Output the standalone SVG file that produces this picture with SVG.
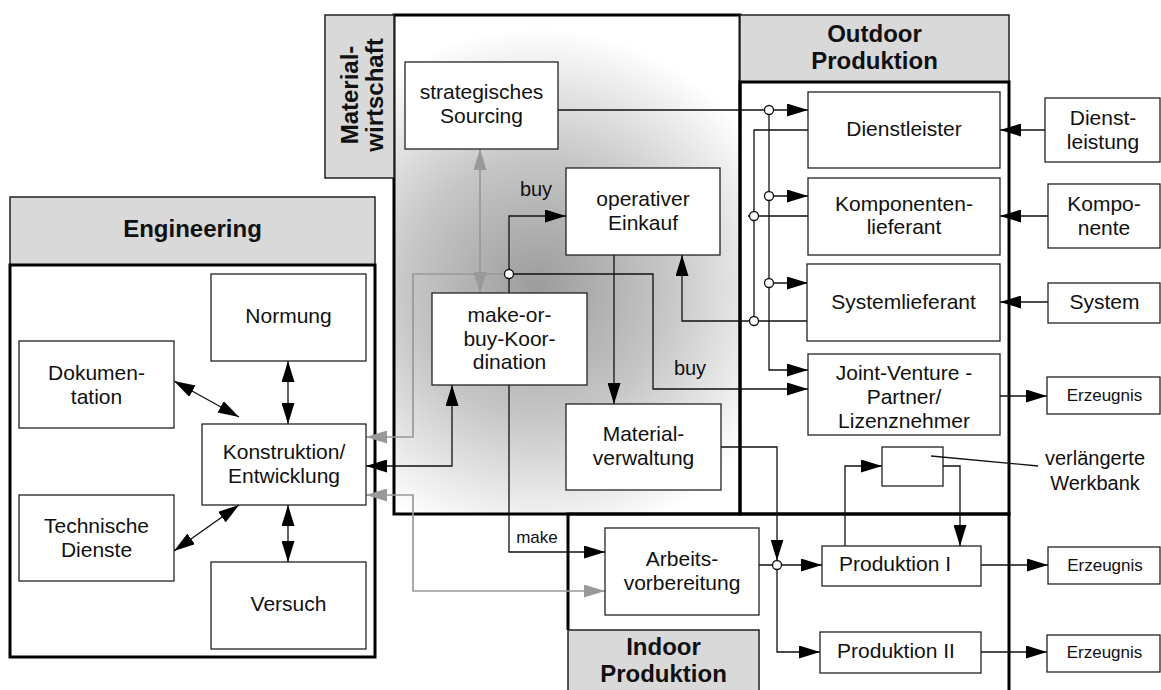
<svg xmlns="http://www.w3.org/2000/svg" width="1161" height="690" viewBox="0 0 1161 690">
<style>
text{font-family:"Liberation Sans",Arial,Helvetica,sans-serif;fill:#111;text-anchor:middle}
.t{font-size:21px}
.s{font-size:17px}
.hd{font-size:24px;font-weight:bold}
.node rect{fill:#fff;stroke:#222;stroke-width:1.3}
.hdr{fill:#d9d9d9;stroke:#222;stroke-width:1.5}
.frame{fill:none;stroke:#000;stroke-width:3}
.c path{fill:none;stroke:#111;stroke-width:1.3}
.c path.g{stroke:#999;stroke-width:1.7}
.j{fill:#fff;stroke:#111;stroke-width:1.3}
</style>
<defs>
<radialGradient id="shade" gradientUnits="userSpaceOnUse" cx="538" cy="288" r="260">
<stop offset="0" stop-color="#9c9c9c"/>
<stop offset="0.5" stop-color="#c6c6c6"/>
<stop offset="1" stop-color="#fff"/>
</radialGradient>
<marker id="a" markerUnits="userSpaceOnUse" markerWidth="22" markerHeight="13" refX="21" refY="6.5" orient="auto-start-reverse">
<path d="M0,0 L21,6.5 L0,13 z" fill="#000"/>
</marker>
<marker id="ag" markerUnits="userSpaceOnUse" markerWidth="22" markerHeight="13" refX="21" refY="6.5" orient="auto-start-reverse">
<path d="M0,0 L21,6.5 L0,13 z" fill="#999"/>
</marker>
</defs>
<rect width="1161" height="690" fill="#fff"/>

<!-- containers -->
<g id="materialwirtschaft">
<rect x="394" y="15" width="346" height="499" style="fill:url(#shade)"/>
<rect x="394" y="15" width="346" height="499" class="frame"/>
<rect x="325" y="15" width="69" height="163" class="hdr"/>
<g transform="translate(359.5,95) rotate(-90)">
<text class="hd" x="0" y="-2">Material-</text>
<text class="hd" x="0" y="23">wirtschaft</text>
</g>
</g>
<g id="outdoor">
<rect x="740" y="15" width="269" height="67" class="hdr"/>
<rect x="740" y="82" width="269" height="432" class="frame"/>
<text class="hd" x="874.5" y="42">Outdoor</text>
<text class="hd" x="874.5" y="69">Produktion</text>
</g>
<g id="indoor">
<path d="M568,630 V514 H1009 V690" class="frame"/>
<rect x="568" y="630" width="191" height="62" class="hdr"/>
<text class="hd" x="663.5" y="655">Indoor</text>
<text class="hd" x="663.5" y="682">Produktion</text>
</g>
<g id="engineering">
<rect x="10" y="197" width="365" height="68" class="hdr"/>
<rect x="10" y="265" width="365" height="392" class="frame"/>
<text class="hd" x="192.5" y="237">Engineering</text>
</g>

<!-- connectors -->
<g id="connectors" class="c">
<path d="M558,110 H808" marker-end="url(#a)"/>
<path d="M769,110 V370 H808" marker-end="url(#a)"/>
<path d="M769,196 H808" marker-end="url(#a)"/>
<path d="M769,283 H808" marker-end="url(#a)"/>
<path d="M808,130 H754 V321"/>
<path d="M748,216 H808"/>
<path d="M808,321 H682 V255" marker-end="url(#a)"/>
<path d="M614,255 V404" marker-end="url(#a)"/>
<path d="M509,293 V216 H566" marker-end="url(#a)"/>
<path d="M509,274 H653 V389 H808" marker-end="url(#a)"/>
<path d="M366,466 H452 V385" marker-start="url(#a)" marker-end="url(#a)"/>
<path d="M509,385 V552 H605" marker-end="url(#a)"/>
<path d="M721,447 H777 V560.5" marker-end="url(#a)"/>
<path d="M759,565 H822" marker-end="url(#a)"/>
<path d="M777,565 V652 H820" marker-end="url(#a)"/>
<path d="M845,546 V466 H882" marker-end="url(#a)"/>
<path d="M943,466 H960 V546" marker-end="url(#a)"/>
<path d="M981,565 H1048" marker-end="url(#a)"/>
<path d="M981,652 H1047" marker-end="url(#a)"/>
<path d="M1000,396 H1047" marker-end="url(#a)"/>
<path d="M1045,130 H1000" marker-end="url(#a)"/>
<path d="M1048,216 H1000" marker-end="url(#a)"/>
<path d="M1048,302 H1000" marker-end="url(#a)"/>
<path d="M288,361 V424" marker-start="url(#a)" marker-end="url(#a)"/>
<path d="M174,381 L239,417" marker-start="url(#a)" marker-end="url(#a)"/>
<path d="M174,551 L239,505" marker-start="url(#a)" marker-end="url(#a)"/>
<path d="M288,505 V562" marker-start="url(#a)" marker-end="url(#a)"/>
<path class="g" d="M480,149 V293" marker-start="url(#ag)" marker-end="url(#ag)"/>
<path class="g" d="M505,274 H413 V437 H366" marker-end="url(#ag)"/>
<path class="g" d="M605,591 H413 V495 H366" marker-start="url(#ag)" marker-end="url(#ag)"/>
<circle class="j" cx="769" cy="110" r="4.5"/>
<circle class="j" cx="769" cy="196" r="4.5"/>
<circle class="j" cx="769" cy="283" r="4.5"/>
<circle class="j" cx="754" cy="216" r="4.5"/>
<circle class="j" cx="754" cy="321" r="4.5"/>
<circle class="j" cx="509" cy="274" r="4.5"/>
<circle class="j" cx="777" cy="565" r="4.5"/>
<text class="t" x="536" y="196" style="font-size:20px">buy</text>
<text class="t" x="690" y="375" style="font-size:20px">buy</text>
<text class="s" x="537" y="543">make</text>
</g>

<!-- nodes -->
<g id="n-sourcing" class="node"><rect x="405" y="62" width="153" height="87"/><text class="t" x="481.5" y="99">strategisches</text><text class="t" x="481.5" y="123">Sourcing</text></g>
<g id="n-einkauf" class="node"><rect x="566" y="168" width="154" height="87"/><text class="t" x="643" y="206">operativer</text><text class="t" x="643" y="230">Einkauf</text></g>
<g id="n-makeorbuy" class="node"><rect x="432" y="293" width="155" height="92"/><text class="t" x="509.5" y="322">make-or-</text><text class="t" x="509.5" y="345.5">buy-Koor-</text><text class="t" x="509.5" y="369">dination</text></g>
<g id="n-materialverwaltung" class="node"><rect x="566" y="404" width="155" height="86"/><text class="t" x="643.5" y="441">Material-</text><text class="t" x="643.5" y="465">verwaltung</text></g>

<g id="n-dienstleister" class="node"><rect x="808" y="92" width="192" height="76"/><text class="t" x="904" y="136">Dienstleister</text></g>
<g id="n-komponentenlieferant" class="node"><rect x="808" y="178" width="192" height="77"/><text class="t" x="904" y="211">Komponenten-</text><text class="t" x="904" y="234">lieferant</text></g>
<g id="n-systemlieferant" class="node"><rect x="807" y="264" width="193" height="77"/><text class="t" x="903.5" y="309">Systemlieferant</text></g>
<g id="n-jointventure" class="node"><rect x="808" y="354" width="192" height="81"/><text class="t" x="904" y="380">Joint-Venture -</text><text class="t" x="904" y="404">Partner/</text><text class="t" x="904" y="428">Lizenznehmer</text></g>
<g id="n-werkbank" class="node"><rect x="882" y="447" width="61" height="39"/></g>

<g id="n-dienstleistung" class="node"><rect x="1045" y="98" width="115" height="64"/><text class="t" x="1103" y="125">Dienst-</text><text class="t" x="1103" y="149">leistung</text></g>
<g id="n-komponente" class="node"><rect x="1048" y="184" width="112" height="64"/><text class="t" x="1104" y="211">Kompo-</text><text class="t" x="1104" y="235">nente</text></g>
<g id="n-system" class="node"><rect x="1048" y="283" width="112" height="40"/><text class="t" x="1104.5" y="309">System</text></g>
<g id="n-erzeugnis1" class="node"><rect x="1047" y="377" width="113" height="37"/><text class="s" x="1104.5" y="401">Erzeugnis</text></g>
<g id="n-erzeugnis2" class="node"><rect x="1048" y="547" width="112" height="37"/><text class="s" x="1105" y="571">Erzeugnis</text></g>
<g id="n-erzeugnis3" class="node"><rect x="1047" y="635" width="113" height="37"/><text class="s" x="1104.5" y="658">Erzeugnis</text></g>

<g id="n-arbeitsvorbereitung" class="node"><rect x="605" y="528" width="154" height="87"/><text class="t" x="682" y="566">Arbeits-</text><text class="t" x="682" y="590">vorbereitung</text></g>
<g id="n-produktion1" class="node"><rect x="822" y="546" width="159" height="40"/><text class="t" x="895" y="571">Produktion I</text></g>
<g id="n-produktion2" class="node"><rect x="820" y="632" width="161" height="41"/><text class="t" x="896" y="658">Produktion II</text></g>

<g id="n-normung" class="node"><rect x="211" y="274" width="155" height="87"/><text class="t" x="288.5" y="323">Normung</text></g>
<g id="n-dokumentation" class="node"><rect x="19" y="341" width="155" height="87"/><text class="t" x="96.5" y="380">Dokumen-</text><text class="t" x="96.5" y="404">tation</text></g>
<g id="n-konstruktion" class="node"><rect x="202" y="424" width="164" height="81"/><text class="t" x="284" y="459">Konstruktion/</text><text class="t" x="284" y="483">Entwicklung</text></g>
<g id="n-technische" class="node"><rect x="19" y="495" width="155" height="86"/><text class="t" x="96.5" y="533">Technische</text><text class="t" x="96.5" y="557">Dienste</text></g>
<g id="n-versuch" class="node"><rect x="211" y="562" width="155" height="87"/><text class="t" x="288.5" y="611">Versuch</text></g>

<g id="label-werkbank">
<path d="M931,456 L1038,466" fill="none" stroke="#111" stroke-width="1.3"/>
<text class="t" x="1095" y="465" style="font-size:20px">verlängerte</text>
<text class="t" x="1095" y="490" style="font-size:20px">Werkbank</text>
</g>
</svg>
